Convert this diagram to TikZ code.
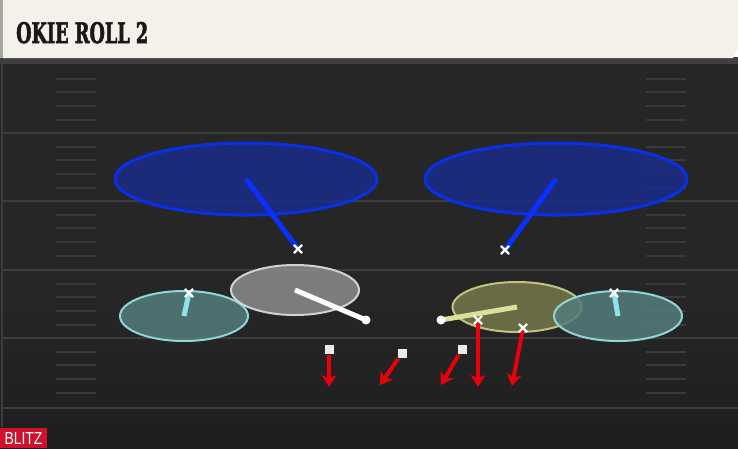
\documentclass[tikz,border=0pt]{standalone}
\usepackage{fontspec}
\usepackage{graphicx}
\usetikzlibrary{shapes.geometric,shapes.misc,arrows.meta}
\newfontfamily\titlefont[FakeBold=2.5]{DejaVu Serif}
\newfontfamily\blitzfont{Liberation Sans}
\definecolor{fieldtop}{HTML}{262626}
\definecolor{fieldbot}{HTML}{1E1E1E}
\definecolor{yardline}{HTML}{3C3C3C}
\definecolor{hashc}{HTML}{3A3A3A}
\definecolor{cream}{HTML}{F4F1EA}
\definecolor{blitzred}{HTML}{D0112B}
\definecolor{zoneblue}{HTML}{1A2B88}
\definecolor{zoneblueline}{HTML}{0A30E6}
\definecolor{rushblue}{HTML}{0A30FF}
\definecolor{zonegray}{HTML}{8C8C8C}
\definecolor{zonegrayline}{HTML}{D2D2D2}
\definecolor{zonecyan}{HTML}{567C7C}
\definecolor{zonecyanline}{HTML}{8FD6D6}
\definecolor{rushcyan}{HTML}{8EE4EE}
\definecolor{zoneyel}{HTML}{77774A}
\definecolor{zoneyelline}{HTML}{BFC383}
\definecolor{rushyel}{HTML}{D6E29C}
\definecolor{arrred}{HTML}{E8000B}
\tikzset{
  zone/.style={ellipse, inner sep=0pt, fill opacity=0.85, line width=2pt},
  bluezone/.style={zone, fill=zoneblue, draw=zoneblueline, line width=3pt, minimum width=262pt, minimum height=72pt},
  grayzone/.style={zone, fill=zonegray, draw=zonegrayline, minimum width=128pt, minimum height=50pt},
  cyanzone/.style={zone, fill=zonecyan, draw=zonecyanline, minimum width=128pt, minimum height=50pt},
  yelzone/.style={zone, fill=zoneyel, draw=zoneyelline, minimum width=129pt, minimum height=50pt},
  rush/.style={line width=5pt},
  redarr/.style={draw=arrred, line width=4pt, -{Stealth[length=12pt,width=15pt,inset=3.5pt]}},
  xmark/.style={cross out, draw=white, line width=2.2pt, minimum size=6pt, inner sep=0pt},
  sqmark/.style={rectangle, fill=white!92!black, draw=black!85, line width=1pt, minimum size=10pt, inner sep=0pt},
  dotmark/.style={circle, fill=white, minimum size=9pt, inner sep=0pt},
  yard/.style={draw=yardline, line width=2pt},
  hash/.style={draw=hashc, line width=1.5pt}
}
\begin{document}
\begin{tikzpicture}[x=1pt,y=-1pt]
\useasboundingbox (0,0) rectangle (738,448);
% field
\fill[fieldtop] (0,58) rectangle (738,448);
\fill[top color=fieldtop, bottom color=fieldbot] (0,300) rectangle (738,448);
\fill[black!75] (0,57) rectangle (738,64);
\draw[yard, line width=1.5pt] (2,64) -- (2,427);
\foreach \yy in {133,201,270,338,408} {\draw[yard] (3,\yy) -- (738,\yy);}
\foreach \b in {65,133,201,270,338} {
  \foreach \o in {14,27,41,55} {
    \draw[hash] (56,\b+\o) -- (96,\b+\o);
    \draw[hash] (646,\b+\o) -- (686,\b+\o);
  }
}
% title bar
\fill[cream] (3,0) -- (738,0) -- (738,49) -- (733,58) -- (3,58) -- cycle;
\fill[black!35] (0,0) rectangle (3,58);
\node[anchor=base west, inner sep=0pt, text=black!90] (title) at (16,43)
  {\resizebox{132pt}{21pt}{\titlefont\bfseries OKIE ROLL 2}};
% blitz tag
\fill[blitzred] (0,428) rectangle (47,448);
\node[inner sep=0pt, anchor=base, text=white] (blitz) at (23.5,444.5)
  {\resizebox{38pt}{12pt}{\blitzfont BLITZ}};
% zones
\node[bluezone] (zbl) at (246,179) {};
\node[bluezone] (zbr) at (556,179) {};
\node[cyanzone] (zcl) at (184,316) {};
\node[grayzone] (zg) at (295,290) {};
\node[yelzone] (zy) at (517,307) {};
% marker points
\coordinate (xbl) at (298,249);
\coordinate (xbr) at (505,250);
\coordinate (xcl) at (189,293);
\coordinate (xcr) at (614,293);
\coordinate (xr1) at (478,320);
\coordinate (xr2) at (523,328);
\coordinate (sq1) at (329,349);
\coordinate (sq2) at (402,353);
\coordinate (sq3) at (462,349);
\coordinate (dw) at (366,320);
\coordinate (dy) at (441,320);
\coordinate (e1) at (329,387);
\coordinate (e2) at (380,385);
\coordinate (e3) at (441,385);
\coordinate (e4) at (478,387);
\coordinate (e5) at (512,386);
% drops
\draw[rush, rushblue] (zbl.center) -- (xbl);
\draw[rush, rushblue] (zbr.center) -- (xbr);
\draw[rush, rushcyan] (xcl) -- (zcl.center);
\draw[rush, white] (zg.center) -- (dw);
\draw[rush, rushyel] (zy.center) -- (dy);
\node[cyanzone] (zcr) at (618,316) {};
\draw[rush, rushcyan] (xcr) -- (zcr.center);
% rush arrows
\draw[redarr] (sq1) -- (e1);
\draw[redarr] (sq2) -- (e2);
\draw[redarr] (sq3) -- (e3);
\draw[redarr] (xr1) -- (e4);
\draw[redarr] (xr2) -- (e5);
% markers
\node[xmark] (mxbl) at (xbl) {};
\node[xmark] (mxbr) at (xbr) {};
\node[xmark] (mxcl) at (xcl) {};
\node[xmark] (mxcr) at (xcr) {};
\node[xmark] (mxr1) at (xr1) {};
\node[xmark] (mxr2) at (xr2) {};
\node[sqmark] (msq1) at (sq1) {};
\node[sqmark] (msq2) at (sq2) {};
\node[sqmark] (msq3) at (sq3) {};
\node[dotmark] (mdw) at (dw) {};
\node[dotmark] (mdy) at (dy) {};
\end{tikzpicture}
\end{document}
